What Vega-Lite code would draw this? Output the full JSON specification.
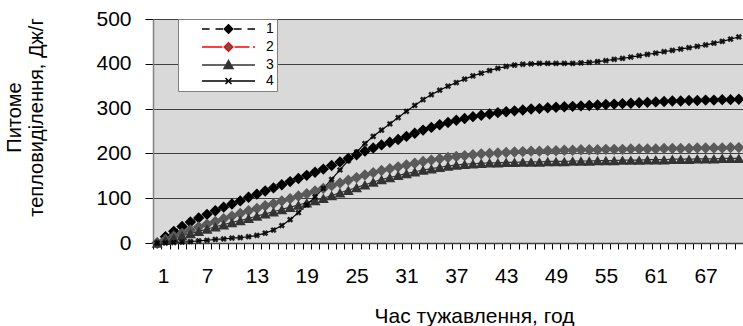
{
  "$schema": "https://vega.github.io/schema/vega-lite/v6.json",
  "width": 590,
  "height": 224,
  "autosize": {"type": "none"},
  "padding": {"left": 153, "top": 19, "right": 0, "bottom": 83},
  "background": "white",
  "config": {
    "view": {"fill": "#d9d9d9", "stroke": "#808080", "strokeWidth": 1},
    "font": "Liberation Sans",
    "axis": {"ticks": true, "tickColor": "#000000", "tickWidth": 1, "tickOpacity": 1}
  },
  "data": {
    "values": [
      {"h":1,"1":0,"2":0,"3":0,"4":0},
      {"h":2,"1":14,"2":8,"3":6,"4":0},
      {"h":3,"1":26,"2":15,"3":11,"4":1},
      {"h":4,"1":37,"2":22,"3":16,"4":2},
      {"h":5,"1":47,"2":29,"3":21,"4":3},
      {"h":6,"1":56,"2":36,"3":26,"4":5},
      {"h":7,"1":64,"2":42,"3":31,"4":6},
      {"h":8,"1":72,"2":48,"3":36,"4":8},
      {"h":9,"1":80,"2":54,"3":41,"4":9},
      {"h":10,"1":87,"2":60,"3":46,"4":11},
      {"h":11,"1":94,"2":66,"3":50,"4":12},
      {"h":12,"1":102,"2":72,"3":55,"4":14},
      {"h":13,"1":109,"2":77,"3":60,"4":17},
      {"h":14,"1":116,"2":83,"3":65,"4":22},
      {"h":15,"1":123,"2":88,"3":70,"4":29},
      {"h":16,"1":130,"2":94,"3":75,"4":39},
      {"h":17,"1":137,"2":99,"3":80,"4":52},
      {"h":18,"1":144,"2":105,"3":85,"4":68},
      {"h":19,"1":151,"2":110,"3":90,"4":85},
      {"h":20,"1":158,"2":116,"3":95,"4":103},
      {"h":21,"1":165,"2":122,"3":100,"4":122},
      {"h":22,"1":173,"2":128,"3":106,"4":142},
      {"h":23,"1":181,"2":134,"3":112,"4":163},
      {"h":24,"1":189,"2":140,"3":118,"4":184},
      {"h":25,"1":197,"2":146,"3":124,"4":203},
      {"h":26,"1":205,"2":152,"3":130,"4":222},
      {"h":27,"1":212,"2":157,"3":136,"4":238},
      {"h":28,"1":219,"2":162,"3":142,"4":252},
      {"h":29,"1":225,"2":166,"3":146,"4":266},
      {"h":30,"1":231,"2":170,"3":151,"4":280},
      {"h":31,"1":238,"2":174,"3":155,"4":294},
      {"h":32,"1":245,"2":178,"3":159,"4":307},
      {"h":33,"1":252,"2":182,"3":163,"4":320},
      {"h":34,"1":258,"2":185,"3":166,"4":331},
      {"h":35,"1":264,"2":188,"3":169,"4":341},
      {"h":36,"1":269,"2":191,"3":172,"4":350},
      {"h":37,"1":274,"2":193,"3":174,"4":358},
      {"h":38,"1":278,"2":195,"3":176,"4":366},
      {"h":39,"1":282,"2":197,"3":177,"4":373},
      {"h":40,"1":285,"2":199,"3":178,"4":379},
      {"h":41,"1":288,"2":200,"3":179,"4":385},
      {"h":42,"1":291,"2":201,"3":179,"4":390},
      {"h":43,"1":293,"2":202,"3":180,"4":394},
      {"h":44,"1":295,"2":203,"3":180,"4":397},
      {"h":45,"1":297,"2":204,"3":181,"4":399},
      {"h":46,"1":299,"2":205,"3":181,"4":400},
      {"h":47,"1":300,"2":205,"3":181,"4":401},
      {"h":48,"1":302,"2":206,"3":182,"4":401},
      {"h":49,"1":303,"2":206,"3":182,"4":401},
      {"h":50,"1":304,"2":207,"3":182,"4":401},
      {"h":51,"1":305,"2":207,"3":183,"4":401},
      {"h":52,"1":306,"2":208,"3":183,"4":402},
      {"h":53,"1":307,"2":208,"3":183,"4":403},
      {"h":54,"1":308,"2":208,"3":184,"4":405},
      {"h":55,"1":309,"2":209,"3":184,"4":407},
      {"h":56,"1":310,"2":209,"3":184,"4":410},
      {"h":57,"1":311,"2":209,"3":185,"4":412},
      {"h":58,"1":312,"2":210,"3":185,"4":415},
      {"h":59,"1":313,"2":210,"3":185,"4":418},
      {"h":60,"1":314,"2":210,"3":186,"4":421},
      {"h":61,"1":315,"2":210,"3":186,"4":424},
      {"h":62,"1":316,"2":211,"3":186,"4":427},
      {"h":63,"1":317,"2":211,"3":187,"4":430},
      {"h":64,"1":317,"2":211,"3":187,"4":433},
      {"h":65,"1":318,"2":211,"3":187,"4":436},
      {"h":66,"1":318,"2":212,"3":188,"4":439},
      {"h":67,"1":319,"2":212,"3":188,"4":442},
      {"h":68,"1":319,"2":212,"3":188,"4":446},
      {"h":69,"1":320,"2":212,"3":189,"4":450},
      {"h":70,"1":320,"2":213,"3":189,"4":455},
      {"h":71,"1":321,"2":213,"3":189,"4":460}
    ]
  },
  "transform": [
    {"fold": ["1", "2", "3", "4"], "as": ["series", "v"]}
  ],
  "encoding": {
    "x": {
      "field": "h",
      "type": "quantitative",
      "scale": {"domain": [0.5, 71.5], "nice": false, "zero": false},
      "axis": {
        "values": [0.5,1.5,2.5,3.5,4.5,5.5,6.5,7.5,8.5,9.5,10.5,11.5,12.5,13.5,14.5,15.5,16.5,17.5,18.5,19.5,20.5,21.5,22.5,23.5,24.5,25.5,26.5,27.5,28.5,29.5,30.5,31.5,32.5,33.5,34.5,35.5,36.5,37.5,38.5,39.5,40.5,41.5,42.5,43.5,44.5,45.5,46.5,47.5,48.5,49.5,50.5,51.5,52.5,53.5,54.5,55.5,56.5,57.5,58.5,59.5,60.5,61.5,62.5,63.5,64.5,65.5,66.5,67.5,68.5,69.5,70.5,71.5],
        "labelExpr": "(datum.value - 0.5) % 6 == 0 && datum.value < 70 ? format(datum.value + 0.5, 'd') : ''",
        "labelOverlap": false,
        "labelBound": false,
        "labelOffset": 4.15,
        "labelFontSize": 21,
        "labelFont": "Liberation Sans",
        "labelColor": "#000000",
        "labelPadding": 16,
        "ticks": true,
        "tickSize": 6,
        "domain": true,
        "domainColor": "#404040",
        "domainWidth": 1.5,
        "grid": false,
        "title": "Час тужавлення, год",
        "titleFont": "Liberation Sans",
        "titleFontSize": 21,
        "titleFontWeight": "normal",
        "titleColor": "#000000",
        "titleX": 321,
        "titleY": 79,
        "titleAlign": "center",
        "titleBaseline": "alphabetic"
      }
    },
    "y": {
      "field": "v",
      "type": "quantitative",
      "scale": {"domain": [0, 500], "nice": false},
      "axis": {
        "tickCount": 5,
        "labelFontSize": 21,
        "labelFont": "Liberation Sans",
        "labelColor": "#000000",
        "labelPadding": 14,
        "ticks": true,
        "tickSize": 8,
        "domainColor": "#808080",
        "domainWidth": 1.5,
        "grid": true,
        "gridColor": "#404040",
        "gridWidth": 1,
        "title": ["Питоме", "тепловиділення, Дж/г"],
        "titleFont": "Liberation Sans",
        "titleFontSize": 20,
        "titleFontWeight": "normal",
        "titleColor": "#000000",
        "titleLineHeight": 22,
        "titleAngle": -90,
        "titleX": -149,
        "titleY": 98,
        "titleAlign": "center",
        "titleBaseline": "top"
      }
    }
  },
  "layer": [
    {
      "mark": {"type": "line", "strokeWidth": 1.2},
      "encoding": {
        "color": {
          "field": "series",
          "type": "nominal",
          "scale": {"range": ["#000000", "#ff0000", "#333333", "#000000"]},
          "legend": null
        },
        "strokeDash": {
          "field": "series",
          "type": "nominal",
          "scale": {"range": [[4, 3], [8, 3, 1, 3], [1, 0], [1, 0]]},
          "legend": null
        }
      }
    },
    {
      "transform": [{"filter": "datum.series == '1'"}],
      "mark": {"type": "point", "shape": "diamond", "filled": true, "size": 130, "opacity": 1, "color": "#000000"},
      "encoding": {}
    },
    {
      "transform": [{"filter": "datum.series == '2'"}],
      "mark": {"type": "point", "shape": "diamond", "filled": true, "size": 130, "opacity": 1, "color": "#5a5a5a"},
      "encoding": {}
    },
    {
      "transform": [{"filter": "datum.series == '3'"}],
      "mark": {"type": "point", "shape": "triangle-up", "filled": true, "size": 120, "opacity": 1, "color": "#333333"},
      "encoding": {}
    },
    {
      "transform": [{"filter": "datum.series == '4'"}],
      "mark": {"type": "point", "shape": "cross", "angle": 45, "filled": true, "size": 40, "color": "#000000", "opacity": 0.85},
      "encoding": {}
    },
    {
      "transform": [{"filter": "false"}],
      "mark": {"type": "point", "filled": true, "size": 100, "opacity": 1, "strokeWidth": 1.5},
      "encoding": {
        "shape": {
          "field": "series",
          "type": "nominal",
          "scale": {"domain": ["1", "2", "3", "4"], "range": [
            "M-5.3,0H-3.8M-2.6,0H-1.1M1.1,0H2.6M3.8,0H5.3M0,-0.85L0.85,0L0,0.85L-0.85,0Z",
            "M-5.3,0H-1.2M1.2,0H4.2M4.9,0H5.3M0,-0.85L0.85,0L0,0.85L-0.85,0Z",
            "M-5.3,0H5.3M0,-0.9L0.9,0.7L-0.9,0.7Z",
            "M-5.3,0H5.3M-0.6,-0.6L0.6,0.6M-0.6,0.6L0.6,-0.6"
          ]},
          "legend": {
            "orient": "none",
            "legendX": 25,
            "legendY": 0,
            "direction": "vertical",
            "title": null,
            "padding": 3,
            "fillColor": "#ffffff",
            "strokeColor": "#808080",
            "symbolSize": 100,
            "symbolStrokeWidth": 1.5,
            "symbolOffset": 40.5,
            "labelOffset": 30.5,
            "labelFontSize": 14,
            "labelFont": "Liberation Sans",
            "labelColor": "#000000",
            "rowPadding": 2,
            "labelExpr": "datum.label + '      '"
          }
        },
        "fill": {
          "field": "series",
          "type": "nominal",
          "scale": {"domain": ["1", "2", "3", "4"], "range": ["#000000", "#5a5a5a", "#333333", "#000000"]},
          "legend": {
            "orient": "none",
            "legendX": 25,
            "legendY": 0,
            "direction": "vertical",
            "title": null,
            "padding": 3,
            "fillColor": "#ffffff",
            "strokeColor": "#808080",
            "symbolSize": 100,
            "symbolStrokeWidth": 1.5,
            "symbolOffset": 40.5,
            "labelOffset": 30.5,
            "labelFontSize": 14,
            "labelFont": "Liberation Sans",
            "labelColor": "#000000",
            "rowPadding": 2,
            "labelExpr": "datum.label + '      '"
          }
        },
        "stroke": {
          "field": "series",
          "type": "nominal",
          "scale": {"domain": ["1", "2", "3", "4"], "range": ["#000000", "#ff0000", "#333333", "#000000"]},
          "legend": {
            "orient": "none",
            "legendX": 25,
            "legendY": 0,
            "direction": "vertical",
            "title": null,
            "padding": 3,
            "fillColor": "#ffffff",
            "strokeColor": "#808080",
            "symbolSize": 100,
            "symbolStrokeWidth": 1.5,
            "symbolOffset": 40.5,
            "labelOffset": 30.5,
            "labelFontSize": 14,
            "labelFont": "Liberation Sans",
            "labelColor": "#000000",
            "rowPadding": 2,
            "labelExpr": "datum.label + '      '"
          }
        }
      }
    }
  ]
}
